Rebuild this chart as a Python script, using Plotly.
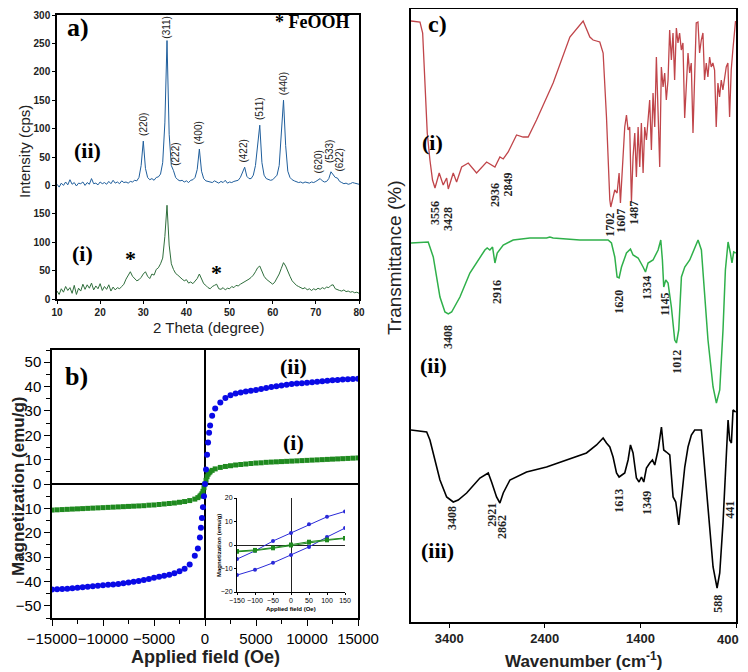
import plotly.graph_objects as go

# ---------------- a) XRD ----------------
two_theta = [10 + 0.5 * i for i in range(141)]
xrd_ii = [2, -3, 4, 0, 6, 1, 10, 2, 5, -1,
          4, 3, 6, 0, 5, 2, 12, 3, 4, 1,
          6, 3, 5, 2, 7, 3, 9, 4, 6, 3,
          8, 5, 6, 4, 7, 6, 9, 8, 14, 35,
          78, 30, 14, 10, 12, 9, 14, 15, 20, 40,
          110, 255, 90, 35, 26, 14, 10, 8, 9, 6,
          8, 5, 9, 10, 14, 28, 64, 25, 12, 8,
          7, 6, 5, 8, 6, 4, 7, 5, 9, 4,
          6, 5, 7, 8, 9, 14, 22, 32, 16, 12,
          12, 18, 35, 75, 106, 40, 18, 12, 10, 9,
          10, 14, 18, 35, 90, 150, 70, 25, 14, 10,
          8, 7, 5, 6, 4, 6, 5, 4, 6, 5,
          7, 10, 12, 8, 6, 7, 12, 24, 18, 14,
          13, 7, 5, 3, 4, 2, 3, 5, 4, 3,
          2]
xrd_i = [14, 8, 18, 12, 22, 15, 20, 10, 24, 8,
         19, 14, 26, 17, 25, 19, 28, 16, 23, 18,
         27, 15, 22, 17, 25, 14, 21, 16, 20, 18,
         22, 26, 35, 42, 48, 40, 36, 32, 34, 38,
         44, 48, 40, 36, 44, 42, 52, 55, 62, 72,
         110, 165, 95, 62, 52, 45, 42, 38, 35, 32,
         34, 28, 30, 27, 31, 36, 44, 34, 27, 24,
         20, 18, 22, 24, 26, 18, 17, 20, 16, 19,
         18, 22, 20, 24, 23, 26, 28, 30, 32, 35,
         38, 42, 48, 55, 58, 48, 40, 35, 32, 30,
         26, 30, 36, 44, 54, 64, 58, 48, 40, 32,
         28, 24, 22, 20, 18, 20, 16, 18, 15, 18,
         16, 19, 17, 20, 18, 21, 20, 24, 25, 18,
         16, 15, 14, 16, 13, 14, 12, 13, 11, 12,
         10]
OFFSET = 200  # upper pattern is stacked above the lower one

hkl_text = ["(220)", "(311)", "(222)", "(400)", "(422)", "(511)", "(440)", "(620)", "(533)", "(622)"]
hkl_x = [29.9, 35.3, 37.6, 42.9, 53.3, 56.8, 62.4, 70.7, 73.3, 75.4]
hkl_y = [108, 278, 54, 93, 61, 136, 178, 42, 59, 44]

# ---------------- b) M-H ----------------
field = [-15000, -14500, -14000, -13500, -13000, -12500, -12000, -11500, -11000, -10500,
         -10000, -9500, -9000, -8500, -8000, -7500, -7000, -6500, -6000, -5500,
         -5000, -4500, -4000, -3500, -3000, -2500, -2000, -1500, -1000, -700,
         -500, -400, -300, -200, -100, 0, 100, 200, 300, 400,
         500, 700, 1000, 1500, 2000, 2500, 3000, 3500, 4000, 4500,
         5000, 5500, 6000, 6500, 7000, 7500, 8000, 8500, 9000, 9500,
         10000, 10500, 11000, 11500, 12000, 12500, 13000, 13500, 14000, 14500,
         15000]
mag_ii = [-43.3, -43.2, -43.1, -43.0, -42.8, -42.6, -42.4, -42.2, -42.0, -41.8,
          -41.6, -41.4, -41.2, -41.0, -40.7, -40.4, -40.1, -39.8, -39.4, -39.0,
          -38.5, -38.1, -37.7, -37.2, -36.6, -35.8, -34.8, -33.0, -29.5, -26.5,
          -22, -18, -14, -9.5, -5, 0, 6, 12, 17, 21,
          24, 28, 31, 33.5, 35.3, 36.4, 37.1, 37.6, 38.0, 38.3,
          38.6, 39.0, 39.4, 39.8, 40.1, 40.4, 40.7, 41.0, 41.2, 41.4,
          41.6, 41.8, 42.0, 42.2, 42.4, 42.6, 42.7, 42.9, 43.0, 43.1,
          43.2]
mag_i = [-10.7, -10.6, -10.5, -10.4, -10.3, -10.2, -10.1, -10.0, -9.9, -9.8,
         -9.7, -9.6, -9.5, -9.4, -9.3, -9.2, -9.1, -9.0, -8.9, -8.7,
         -8.6, -8.4, -8.2, -8.0, -7.8, -7.5, -7.2, -6.8, -6.2, -5.6,
         -5.0, -4.6, -4.0, -3.0, -1.5, 0, 1.5, 3.0, 4.0, 4.6,
         5.0, 5.6, 6.2, 6.8, 7.2, 7.5, 7.8, 8.0, 8.2, 8.4,
         8.6, 8.7, 8.9, 9.0, 9.1, 9.2, 9.3, 9.4, 9.5, 9.6,
         9.7, 9.8, 9.9, 10.0, 10.1, 10.2, 10.3, 10.4, 10.5, 10.6,
         10.7]

# inset (low field)
field_in = [-150, -100, -50, 0, 50, 100, 150]
ii_up = [-6, -2.5, 1.7, 5.1, 8.8, 12, 14.3]
ii_down = [-12.8, -10.5, -7.6, -4.3, -0.8, 3.4, 7.2]
i_up = [-2.6, -2.1, -1.1, 0.2, 1.4, 2.3, 3.0]
i_down = [-2.9, -2.4, -1.4, -0.2, 1.0, 2.0, 2.8]

# ---------------- c) FTIR ----------------
wn_ticks = [3400, 2400, 1400, 400]
wn_i = [3800, 3706, 3678, 3654, 3630, 3602, 3575, 3549, 3505, 3463,
        3427, 3410, 3358, 3323, 3270, 3201, 3114, 3009, 2922, 2870,
        2835, 2783, 2696, 2627, 2574, 2487, 2313, 2138, 1999, 1929,
        1895, 1825, 1790, 1755, 1730, 1720, 1710, 1668, 1644, 1623,
        1609, 1581, 1564, 1546, 1529, 1512, 1494, 1477, 1459, 1442,
        1424, 1407, 1390, 1372, 1355, 1337, 1320, 1303, 1285, 1268,
        1250, 1233, 1216, 1198, 1181, 1163, 1146, 1129, 1111, 1094,
        1076, 1059, 1042, 1024, 1007, 990, 972, 955, 937, 920,
        902, 885, 868, 850, 833, 816, 798, 781, 763, 746,
        729, 711, 694, 676, 659, 642, 624, 607, 589, 572,
        554, 537, 502, 485, 467, 450, 433, 405]
t_i = [601, 600, 589, 539, 489, 462, 442, 434, 449, 437,
       444, 433, 449, 440, 455, 459, 449, 460, 455, 465,
       463, 470, 487, 485, 485, 502, 539, 585, 601, 585,
       582, 580, 569, 505, 440, 422, 415, 432, 429, 449,
       419, 472, 495, 507, 492, 495, 420, 465, 489, 445,
       495, 455, 499, 449, 495, 482, 502, 522, 472, 529,
       495, 565, 512, 455, 555, 535, 549, 522, 542, 592,
       562, 589, 542, 594, 579, 589, 572, 579, 504, 539,
       569, 549, 559, 489, 555, 599, 600, 569, 582, 589,
       542, 559, 545, 565, 555, 559, 552, 495, 539, 525,
       542, 532, 555, 559, 505, 552, 572, 601]

wn_ii = [3800, 3620, 3567, 3497, 3445, 3410, 3375, 3288, 3184, 3079,
         3027, 3003, 2975, 2947, 2922, 2898, 2835, 2731, 2556, 2382,
         2347, 2313, 2034, 1738, 1703, 1668, 1644, 1623, 1598, 1546,
         1504, 1477, 1424, 1372, 1347, 1320, 1268, 1215, 1187, 1170,
         1156, 1135, 1111, 1076, 1041, 1023, 999, 971, 936, 884,
         832, 797, 762, 727, 693, 640, 605, 570, 536, 511,
         483, 459, 442, 424, 403]
t_ii = [379, 380, 365, 325, 310, 308, 310, 325, 349, 365,
        372, 374, 372, 375, 359, 369, 377, 382, 384, 384,
        385, 384, 382, 382, 379, 365, 345, 344, 355, 369,
        373, 367, 364, 355, 350, 359, 362, 372, 382, 362,
        335, 342, 339, 315, 282, 279, 292, 345, 355, 362,
        375, 382, 372, 325, 282, 235, 219, 232, 292, 352,
        380, 369, 359, 370, 369]

wn_iii = [3800, 3636, 3602, 3549, 3497, 3427, 3358, 3306, 3218, 3079,
          2992, 2957, 2905, 2870, 2835, 2765, 2591, 2382, 2173, 1964,
          1859, 1790, 1755, 1720, 1686, 1650, 1623, 1564, 1529, 1504,
          1477, 1442, 1414, 1389, 1365, 1337, 1302, 1274, 1250, 1215,
          1180, 1156, 1128, 1093, 1058, 1030, 999, 971, 936, 902,
          867, 832, 762, 738, 693, 640, 598, 570, 536, 501,
          483, 466, 448, 431, 403]
t_iii = [192, 190, 182, 162, 142, 125, 120, 122, 129, 144,
         149, 140, 125, 119, 129, 142, 150, 155, 162, 169,
         177, 184, 179, 175, 165, 149, 145, 149, 162, 177,
         169, 144, 140, 145, 140, 154, 159, 162, 157, 172,
         195, 172, 170, 167, 125, 120, 97, 122, 155, 175,
         187, 192, 192, 165, 115, 55, 34, 49, 99, 162,
         202, 182, 179, 212, 210]

peak_text = ["3556", "3428", "2936", "2849", "1702", "1607", "1487",
             "3408", "2916", "1620", "1334", "1145", "1012",
             "3408", "2921", "2862", "1613", "1349", "441", "588"]
peak_x = [3549, 3414, 2922, 2790, 1720, 1605, 1469,
          3414, 2901, 1626, 1334, 1145, 1020,
          3372, 2954, 2849, 1626, 1334, 466, 591]
peak_y = [409, 403, 427, 437, 397, 401, 409,
          285, 330, 320, 334, 318, 260,
          104, 107, 95, 121, 119, 112, 18]

# the page body adds an 8 px margin, so the figure is 8 px smaller
SHIFT = 8
W, H = 748 - SHIFT, 672 - SHIFT


def px(x):
    return (x - SHIFT) / W


def py(y):
    return 1 - (y - SHIFT) / H


fig = go.Figure()

fig.add_trace(go.Scatter(x=two_theta, y=[v + OFFSET for v in xrd_ii], mode="lines",
                         line=dict(color="#1f5e9c", width=1), xaxis="x", yaxis="y"))
fig.add_trace(go.Scatter(x=two_theta, y=xrd_i, mode="lines",
                         line=dict(color="#2f6e3c", width=1), xaxis="x", yaxis="y"))

fig.add_trace(go.Scatter(x=field, y=mag_i, mode="markers",
                         marker=dict(symbol="square", size=5, color="#1f8a1f"),
                         xaxis="x2", yaxis="y2"))
fig.add_trace(go.Scatter(x=field, y=mag_ii, mode="markers",
                         marker=dict(symbol="circle", size=6, color="#0a0ae6"),
                         xaxis="x2", yaxis="y2"))

for ys, col, sym in [(ii_up, "#2a2ad8", "circle"), (ii_down, "#2a2ad8", "circle"),
                     (i_up, "#1f8a1f", "square"), (i_down, "#1f8a1f", "square")]:
    fig.add_trace(go.Scatter(x=field_in, y=ys, mode="lines+markers",
                             line=dict(color=col, width=1),
                             marker=dict(symbol=sym, size=4, color=col),
                             xaxis="x3", yaxis="y3"))

fig.add_trace(go.Scatter(x=wn_i, y=t_i, mode="lines", line=dict(color="#c0454a", width=1.3),
                         xaxis="x4", yaxis="y4"))
fig.add_trace(go.Scatter(x=wn_ii, y=t_ii, mode="lines", line=dict(color="#2fb04a", width=1.5),
                         xaxis="x4", yaxis="y4"))
fig.add_trace(go.Scatter(x=wn_iii, y=t_iii, mode="lines", line=dict(color="black", width=1.6),
                         xaxis="x4", yaxis="y4"))

sans = "Liberation Sans"
serif = "Liberation Serif"
frame = dict(showline=True, mirror=True, linecolor="black", linewidth=1.5, automargin=False,
             showgrid=False, zeroline=False, ticks="outside", tickcolor="black",
             ticklabeloverflow="allow", tickangle=0)
inset = dict(showline=True, mirror=False, linecolor="black", linewidth=1, automargin=False,
             showgrid=False, ticks="outside", tickcolor="black", ticklen=2, tickangle=0,
             zeroline=True, zerolinecolor="#222", zerolinewidth=1, ticklabeloverflow="allow",
             tickfont=dict(family=sans, size=7, color="black"))
wn_font = dict(family=sans, size=13, color="#222", weight="bold")

fig.update_layout(
    width=W, height=H, margin=dict(l=0, r=0, t=0, b=0, autoexpand=False),
    paper_bgcolor="white", plot_bgcolor="white", showlegend=False,
    xaxis=dict(frame, domain=[px(57), px(359)], anchor="y", range=[10, 80], dtick=10,
               ticklen=3, tickfont=dict(family=sans, size=10, color="#222", weight="bold")),
    yaxis=dict(frame, domain=[py(299), py(15)], anchor="x", range=[0, 500], ticklen=3,
               tickvals=[0, 50, 100, 150, 200, 250, 300, 350, 400, 450, 500],
               ticktext=["0", "50", "100", "150", "0", "50", "100", "150", "200", "250", "300"],
               tickfont=dict(family=sans, size=10, color="#222", weight="bold")),
    xaxis2=dict(frame, domain=[px(52), px(358)], anchor="y2", range=[-15000, 15000],
                dtick=5000, tickformat="d", ticklen=6,
                zeroline=True, zerolinecolor="black", zerolinewidth=1.5,
                minor=dict(ticks="outside", dtick=2500, ticklen=4, tickcolor="black"),
                tickfont=dict(family=sans, size=15, color="black")),
    yaxis2=dict(frame, domain=[py(618), py(350)], anchor="x2", range=[-55, 55],
                dtick=10, ticklen=6, zeroline=True, zerolinecolor="black", zerolinewidth=1.5,
                minor=dict(ticks="outside", dtick=5, ticklen=4, tickcolor="black"),
                tickfont=dict(family=sans, size=15, color="black")),
    xaxis3=dict(inset, domain=[px(237), px(345)], anchor="y3", range=[-150, 150], dtick=50),
    yaxis3=dict(inset, domain=[py(592), py(498)], anchor="x3", range=[-20, 20], dtick=10),
    # last tick label (at the very edge) is written as an annotation so it is not clipped
    xaxis4=dict(frame, domain=[px(411), px(736)], anchor="y4", range=[3800, 400],
                tickvals=wn_ticks, ticktext=[str(v) for v in wn_ticks[:-1]] + [""],
                ticklen=4, tickfont=wn_font),
    yaxis4=dict(frame, domain=[py(622), py(9)], anchor="x4", range=[0, 613],
                ticks="", showticklabels=False),
)

ann = []
# axis titles
ann.append(dict(text="Intensity (cps)", x=px(24), y=py(152), textangle=-90,
                font=dict(family=sans, size=15, color="#222")))
ann.append(dict(text="2 Theta (degree)", x=px(208), y=py(327),
                font=dict(family=sans, size=15, color="#222")))
ann.append(dict(text="Magnetization (emu/g)", x=px(18), y=py(487), textangle=-90,
                font=dict(family=sans, size=17, color="#222", weight="bold")))
ann.append(dict(text="Applied field (Oe)", x=px(205), y=py(657),
                font=dict(family=sans, size=18, color="#222", weight="bold")))
ann.append(dict(text="Transmittance (%)", x=px(394), y=py(258), textangle=-90,
                font=dict(family=sans, size=19, color="#222")))
ann.append(dict(text="Wavenumber (cm<sup>-1</sup>)", x=px(583), y=py(660),
                font=dict(family=sans, size=17, color="#222", weight="bold")))
ann.append(dict(text="Magnetization (emu/g)", x=px(219), y=py(545), textangle=-90,
                font=dict(family=sans, size=6, color="black", weight="bold")))
ann.append(dict(text="Applied field (Oe)", x=px(291), y=py(609),
                font=dict(family=sans, size=6, color="black", weight="bold")))

# panel letters and sample labels
big = dict(family=serif, color="black", weight="bold")
for txt, x, y, s in [("a)", 78, 27, 26), ("b)", 76, 376, 26), ("c)", 438, 24, 24),
                     ("* FeOOH", 312, 22, 18), ("(ii)", 87, 150, 22), ("(i)", 82, 254, 22),
                     ("*", 130, 258, 22), ("*", 216, 272, 22),
                     ("(ii)", 293, 367, 22), ("(i)", 293, 442, 22),
                     ("(i)", 432, 143, 22), ("(ii)", 433, 365, 22), ("(iii)", 437, 550, 22)]:
    ann.append(dict(text=txt, x=px(x), y=py(y), font=dict(big, size=s)))

for a in ann:
    a.update(xref="paper", yref="paper", showarrow=False, xanchor="center", yanchor="middle")

ann.append(dict(text=str(wn_ticks[-1]), x=px(741), y=py(639), xref="paper", yref="paper",
                showarrow=False, xanchor="right", yanchor="middle", font=wn_font))

for t, x, y in zip(hkl_text, hkl_x, hkl_y):
    ann.append(dict(text=t, x=x, y=y + OFFSET, xref="x", yref="y", textangle=-90,
                    showarrow=False, xanchor="center", yanchor="middle",
                    font=dict(family=sans, size=10, color="#222")))

for t, x, y in zip(peak_text, peak_x, peak_y):
    ann.append(dict(text=t, x=x, y=y, xref="x4", yref="y4", textangle=-90,
                    showarrow=False, xanchor="center", yanchor="middle",
                    font=dict(family=serif, size=12, color="#222", weight="bold")))

fig.update_layout(annotations=ann)
fig.write_html("out.html")
